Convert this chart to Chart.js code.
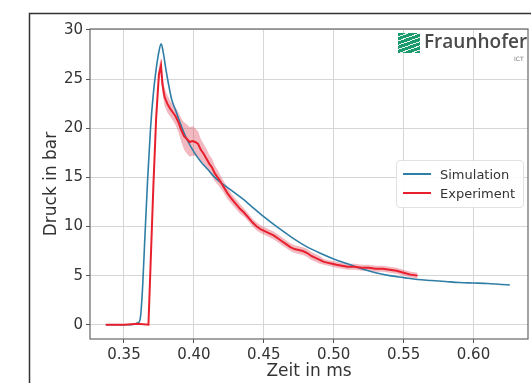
<!DOCTYPE html>
<html>
<head>
<meta charset="utf-8">
<script src="https://cdn.jsdelivr.net/npm/chart.js@4/dist/chart.umd.min.js"></script>
<style>
  body { margin: 0; background: #fff; }
  #wrap { position: relative; width: 531px; height: 383px; overflow: hidden; }
  #legend {
    position: absolute; left: 396px; top: 160px; width: 126px;
    background: rgba(255,255,255,0.9); border: 1px solid #e2e2e2; border-radius: 4px;
    padding: 4px 0 4px 0; font: 13px "DejaVu Sans", sans-serif; color: #333;
  }
  #legend div { height: 19px; line-height: 19px; white-space: nowrap; }
  #legend span.sw { display: inline-block; width: 28px; height: 2px; margin: 0 9px 4px 6px; vertical-align: middle; }
  #logo { position: absolute; left: 398px; top: 31px; }
  #logo .icon {
    position: absolute; left: 0; top: 2px; width: 22px; height: 20px;
    background: repeating-linear-gradient(160deg, #1b9a6e 0px, #1b9a6e 3px, #e8f5ef 3px, #e8f5ef 4px);
  }
  #logo .name { position: absolute; left: 26px; top: -3px; font: 600 19px "Open Sans", sans-serif; color: #4a4a4a; white-space: nowrap; }
  #logo .sub { position: absolute; left: 116px; top: 24px; font: 6px "DejaVu Sans", sans-serif; color: #777; }
</style>
</head>
<body>
<div id="wrap">
  <canvas id="myChart" width="531" height="383"></canvas>
  <div id="logo"><div class="icon"></div><div class="name">Fraunhofer</div><div class="sub">ICT</div></div>
  <div id="legend"></div>
</div>
<script>
// simulation curve
var simX = [0.337, 0.355, 0.360, 0.3615, 0.363, 0.365, 0.367, 0.369, 0.371, 0.373, 0.375, 0.3766,
  0.378, 0.380, 0.382, 0.384, 0.387, 0.390, 0.393, 0.396, 0.400, 0.405, 0.410, 0.415, 0.420, 0.4276,
  0.435, 0.440, 0.450, 0.460, 0.470, 0.480, 0.490, 0.500, 0.510, 0.520, 0.530, 0.540, 0.550, 0.560,
  0.570, 0.580, 0.590, 0.600, 0.610, 0.620, 0.626];
var simY = [0, 0, 0.2, 0.5, 3, 9, 15, 20, 23.5, 26, 27.8, 28.6,
  27.8, 26.0, 24.4, 23.0, 21.8, 20.6, 19.5, 18.6, 17.6, 16.6, 15.8, 15.0, 14.4, 13.6,
  12.8, 12.2, 11.0, 9.9, 8.9, 8.0, 7.3, 6.7, 6.2, 5.7, 5.3, 5.0, 4.8, 4.6,
  4.5, 4.4, 4.3, 4.25, 4.2, 4.1, 4.05];

// experiment mean and half width of the band
var expX = [0.337, 0.350, 0.360, 0.3675, 0.369, 0.371, 0.373, 0.375, 0.3765, 0.3775, 0.379, 0.381,
  0.383, 0.385, 0.387, 0.389, 0.391, 0.393, 0.395, 0.397, 0.399, 0.401, 0.403, 0.405, 0.407, 0.409,
  0.411, 0.413, 0.415, 0.418, 0.421, 0.424, 0.427, 0.430, 0.433, 0.436, 0.439, 0.442, 0.445, 0.448,
  0.451, 0.454, 0.457, 0.460, 0.463, 0.466, 0.469, 0.472, 0.475, 0.478, 0.481, 0.484, 0.487, 0.490,
  0.493, 0.496, 0.499, 0.502, 0.506, 0.510, 0.515, 0.520, 0.525, 0.530, 0.535, 0.540, 0.545, 0.550,
  0.555, 0.560];
var expY = [0, 0, 0.1, 0, 6, 14, 21, 25.5, 26.4, 24.5, 23.2, 22.5,
  22.0, 21.6, 21.2, 20.6, 19.8, 19.2, 18.9, 18.6, 18.7, 18.6, 18.4, 17.8, 17.4, 16.9,
  16.4, 16.0, 15.4, 14.8, 14.1, 13.4, 12.8, 12.3, 11.8, 11.4, 10.9, 10.4, 10.0, 9.7,
  9.5, 9.3, 9.1, 8.8, 8.5, 8.2, 7.9, 7.7, 7.6, 7.5, 7.3, 7.0, 6.8, 6.6,
  6.4, 6.3, 6.2, 6.1, 6.0, 5.9, 5.9, 5.8, 5.8, 5.7, 5.7, 5.6, 5.5, 5.3,
  5.1, 5.0];
var expBand = [0, 0, 0, 0, 0.3, 0.5, 0.6, 0.8, 0.8, 0.9, 0.9, 0.9,
  0.8, 0.8, 0.9, 1.0, 1.2, 1.4, 1.5, 1.5, 1.5, 1.4, 1.3, 1.1, 1.0, 1.0,
  0.9, 0.9, 0.8, 0.7, 0.6, 0.6, 0.5, 0.5, 0.5, 0.4, 0.4, 0.4, 0.4, 0.4,
  0.4, 0.4, 0.4, 0.4, 0.4, 0.4, 0.4, 0.4, 0.4, 0.4, 0.4, 0.4, 0.4, 0.4,
  0.3, 0.3, 0.3, 0.3, 0.3, 0.3, 0.3, 0.3, 0.3, 0.3, 0.3, 0.3, 0.3, 0.3,
  0.3, 0.3];

var xTicks = [0.35, 0.40, 0.45, 0.50, 0.55, 0.60];
var yTicks = [0, 5, 10, 15, 20, 25, 30];

function pts(xs, ys) {
  return xs.map(function (x, i) { return { x: x, y: ys[i] }; });
}
var upper = expY.map(function (v, i) { return v + expBand[i]; });
var lower = expY.map(function (v, i) { return v - expBand[i]; });

var framePlugin = {
  id: 'frame',
  beforeDraw: function (chart) {
    var c = chart.ctx;
    c.save();
    c.fillStyle = '#fff';
    c.fillRect(0, 0, chart.width, chart.height);
    c.strokeStyle = '#333';
    c.lineWidth = 1.5;
    c.beginPath();
    c.moveTo(29.5, 383); c.lineTo(29.5, 13.5); c.lineTo(531, 13.5);
    c.stroke();
    c.restore();
  },
  afterDatasetsDraw: function (chart) {
    var a = chart.chartArea, c = chart.ctx;
    c.save();
    c.strokeStyle = '#666';
    c.lineWidth = 1.2;
    c.strokeRect(a.left, a.top, a.right - a.left, a.bottom - a.top);
    c.restore();
  }
};

var ctx = document.getElementById('myChart').getContext('2d');
var myChart = new Chart(ctx, {
  type: 'line',
  data: {
    datasets: [
      { label: 'Simulation', data: pts(simX, simY), borderColor: '#2f7ea6', borderWidth: 1.6,
        pointRadius: 0, cubicInterpolationMode: 'monotone', order: 1 },
      { label: 'Experiment', data: pts(expX, expY), borderColor: '#e8202e', borderWidth: 2,
        pointRadius: 0, tension: 0, order: 0 },
      { label: 'upper', data: pts(expX, upper), borderWidth: 0, borderColor: 'rgba(0,0,0,0)',
        pointRadius: 0, fill: false, order: 2 },
      { label: 'lower', data: pts(expX, lower), borderWidth: 0, borderColor: 'rgba(0,0,0,0)',
        backgroundColor: 'rgba(222,80,100,0.4)', pointRadius: 0, fill: '-1', order: 2 }
    ]
  },
  options: {
    responsive: false,
    animation: false,
    layout: { padding: { left: 30, top: 29, right: 3, bottom: 0 } },
    plugins: { legend: { display: false }, tooltip: { enabled: false } },
    scales: {
      x: {
        type: 'linear', min: 0.3257, max: 0.639,
        afterFit: function (s) { s.height = 44; },
        afterBuildTicks: function (s) { s.ticks = xTicks.map(function (v) { return { value: v }; }); },
        ticks: { padding: 3, color: '#333', font: { family: 'DejaVu Sans', size: 15 },
          callback: function (v) { return v.toFixed(2); } },
        grid: { color: '#d6d6d6', tickColor: '#555', tickLength: 4 },
        border: { display: false },
        title: { display: true, text: 'Zeit in ms', color: '#333', padding: { top: 0, bottom: 1 },
          font: { family: 'DejaVu Sans', size: 17 } }
      },
      y: {
        type: 'linear', min: -1.45, max: 30.1,
        afterFit: function (s) { s.width = 60; },
        afterBuildTicks: function (s) { s.ticks = yTicks.map(function (v) { return { value: v }; }); },
        ticks: { padding: 3, color: '#333', font: { family: 'DejaVu Sans', size: 15 } },
        grid: { color: '#d6d6d6', tickColor: '#555', tickLength: 4 },
        border: { display: false },
        title: { display: true, text: 'Druck in bar', color: '#333', padding: { top: 11, bottom: 0 },
          font: { family: 'DejaVu Sans', size: 17 } }
      }
    }
  },
  plugins: [framePlugin]
});

// legend box from the chart's own datasets
var legend = document.getElementById('legend');
myChart.data.datasets.slice(0, 2).forEach(function (d) {
  var row = document.createElement('div');
  row.innerHTML = '<span class="sw" style="background:' + d.borderColor + '"></span>' + d.label;
  legend.appendChild(row);
});
</script>
</body>
</html>
